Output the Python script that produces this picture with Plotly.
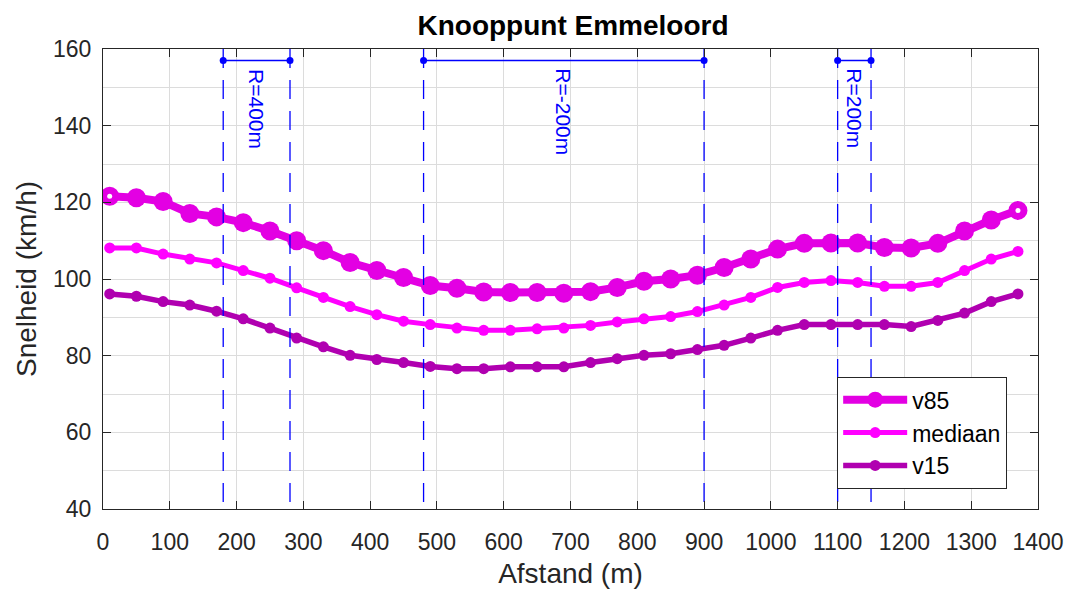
import plotly.graph_objects as go

# ---- data ----
distance = [10, 50, 90, 130, 170, 210, 250, 290, 330, 370, 410, 450, 490, 530,
            570, 610, 650, 690, 730, 770, 810, 850, 890, 930, 970, 1010, 1050,
            1090, 1130, 1170, 1210, 1250, 1290, 1330, 1370]
v85 = [121.6, 121.2, 120.2, 117.1, 116.2, 114.7, 112.5, 110.0, 107.4, 104.3,
       102.2, 100.4, 98.3, 97.6, 96.6, 96.5, 96.5, 96.3, 96.7, 97.8, 99.4,
       100.0, 101.0, 103.0, 105.2, 107.8, 109.3, 109.4, 109.4, 108.2, 108.1,
       109.3, 112.5, 115.4, 117.9]
mediaan = [108.1, 108.1, 106.5, 105.2, 104.2, 102.2, 100.2, 97.7, 95.2, 92.8,
           90.7, 89.0, 88.1, 87.2, 86.6, 86.6, 87.0, 87.2, 87.9, 88.8, 89.6,
           90.2, 91.5, 93.2, 95.2, 97.8, 99.1, 99.6, 99.1, 98.1, 98.1, 99.1,
           102.2, 105.2, 107.2]
v15 = [96.1, 95.5, 94.1, 93.2, 91.6, 89.6, 87.2, 84.6, 82.3, 80.1, 79.0, 78.2,
       77.2, 76.6, 76.6, 77.1, 77.1, 77.1, 78.2, 79.2, 80.1, 80.5, 81.6, 82.7,
       84.6, 86.6, 88.1, 88.1, 88.1, 88.1, 87.6, 89.2, 91.1, 94.1, 96.1]

curve_start = [180, 480, 1100]
curve_end = [280, 900, 1150]
curve_labels = ["R=400m", "R=-200m", "R=200m"]
curve_level = 157
label_top = 155.4

x_range = [0, 1400]
y_range = [40, 160]

# ---- styles ----
FONT = "Liberation Sans, Arial, sans-serif"
AX = "#262626"
GRID = "#dcdcdc"
C85 = "#E300E3"
CMED = "#FF00FF"
C15 = "#B000B0"
BLUE = "#0000FF"

fig = go.Figure()

fig.add_trace(go.Scatter(x=distance, y=v85, name="v85", mode="lines+markers",
                         line=dict(color=C85, width=8),
                         marker=dict(color=C85, size=19)))
fig.add_trace(go.Scatter(x=[distance[0], distance[-1]], y=[v85[0], v85[-1]],
                         mode="markers", showlegend=False, hoverinfo="skip",
                         marker=dict(color="white", size=5)))
fig.add_trace(go.Scatter(x=distance, y=mediaan, name="mediaan", mode="lines+markers",
                         line=dict(color=CMED, width=5),
                         marker=dict(color=CMED, size=11)))
fig.add_trace(go.Scatter(x=distance, y=v15, name="v15", mode="lines+markers",
                         line=dict(color=C15, width=5.5),
                         marker=dict(color=C15, size=11)))

# vertical dashed lines at start/end of curves
vx, vy = [], []
for s, e in zip(curve_start, curve_end):
    for xv in (s, e):
        vx += [xv, xv, None]
        vy += [y_range[1], y_range[0], None]
fig.add_trace(go.Scatter(x=vx, y=vy, mode="lines", showlegend=False, hoverinfo="skip",
                         line=dict(color=BLUE, width=1.3, dash="19px,12px")))

# horizontal markers of curve extents
for s, e, lab in zip(curve_start, curve_end, curve_labels):
    fig.add_trace(go.Scatter(x=[s, e], y=[curve_level, curve_level], mode="lines+markers",
                             showlegend=False, hoverinfo="skip",
                             line=dict(color=BLUE, width=1.5),
                             marker=dict(color=BLUE, size=7)))
    fig.add_annotation(x=(s + e) / 2, y=label_top, text=lab, showarrow=False,
                       textangle=90, xanchor="center", yanchor="top",
                       font=dict(family=FONT, size=21, color=BLUE))

axis_common = dict(showline=True, linecolor=AX, linewidth=1.3, mirror="ticks",
                   ticks="inside", ticklen=8, tickcolor=AX, tickwidth=1.2,
                   showgrid=True, gridcolor=GRID, gridwidth=1, zeroline=False,
                   tickfont=dict(family=FONT, size=23, color=AX))

fig.update_xaxes(range=x_range, dtick=100, tick0=0,
                 title=dict(text="Afstand (m)", font=dict(family=FONT, size=28, color=AX),
                            standoff=9),
                 ticklabelstandoff=12, **axis_common)
fig.update_yaxes(range=y_range, dtick=20, tick0=40,
                 minor=dict(dtick=10, showgrid=True, gridcolor=GRID, gridwidth=1, ticks=""),
                 title=dict(text="Snelheid (km/h)", font=dict(family=FONT, size=28, color=AX),
                            standoff=8),
                 ticklabelstandoff=6, **axis_common)

fig.update_layout(
    width=1076, height=595,
    margin=dict(l=103, r=33, t=49, b=84),
    paper_bgcolor="white", plot_bgcolor="white",
    title=dict(text="<b>Knooppunt Emmeloord</b>", x=(103 + 1076 - 33) / 2 / 1076,
               xanchor="center", y=1 - 25 / 595, yanchor="middle",
               font=dict(family=FONT, size=28, color="black")),
    legend=dict(x=0.785, y=0.287, xanchor="left", yanchor="top",
                bgcolor="white", bordercolor=AX, borderwidth=1.2,
                font=dict(family=FONT, size=23, color="black"),
                tracegroupgap=0, itemwidth=64),
    showlegend=True,
)

fig.write_html("out.html")
